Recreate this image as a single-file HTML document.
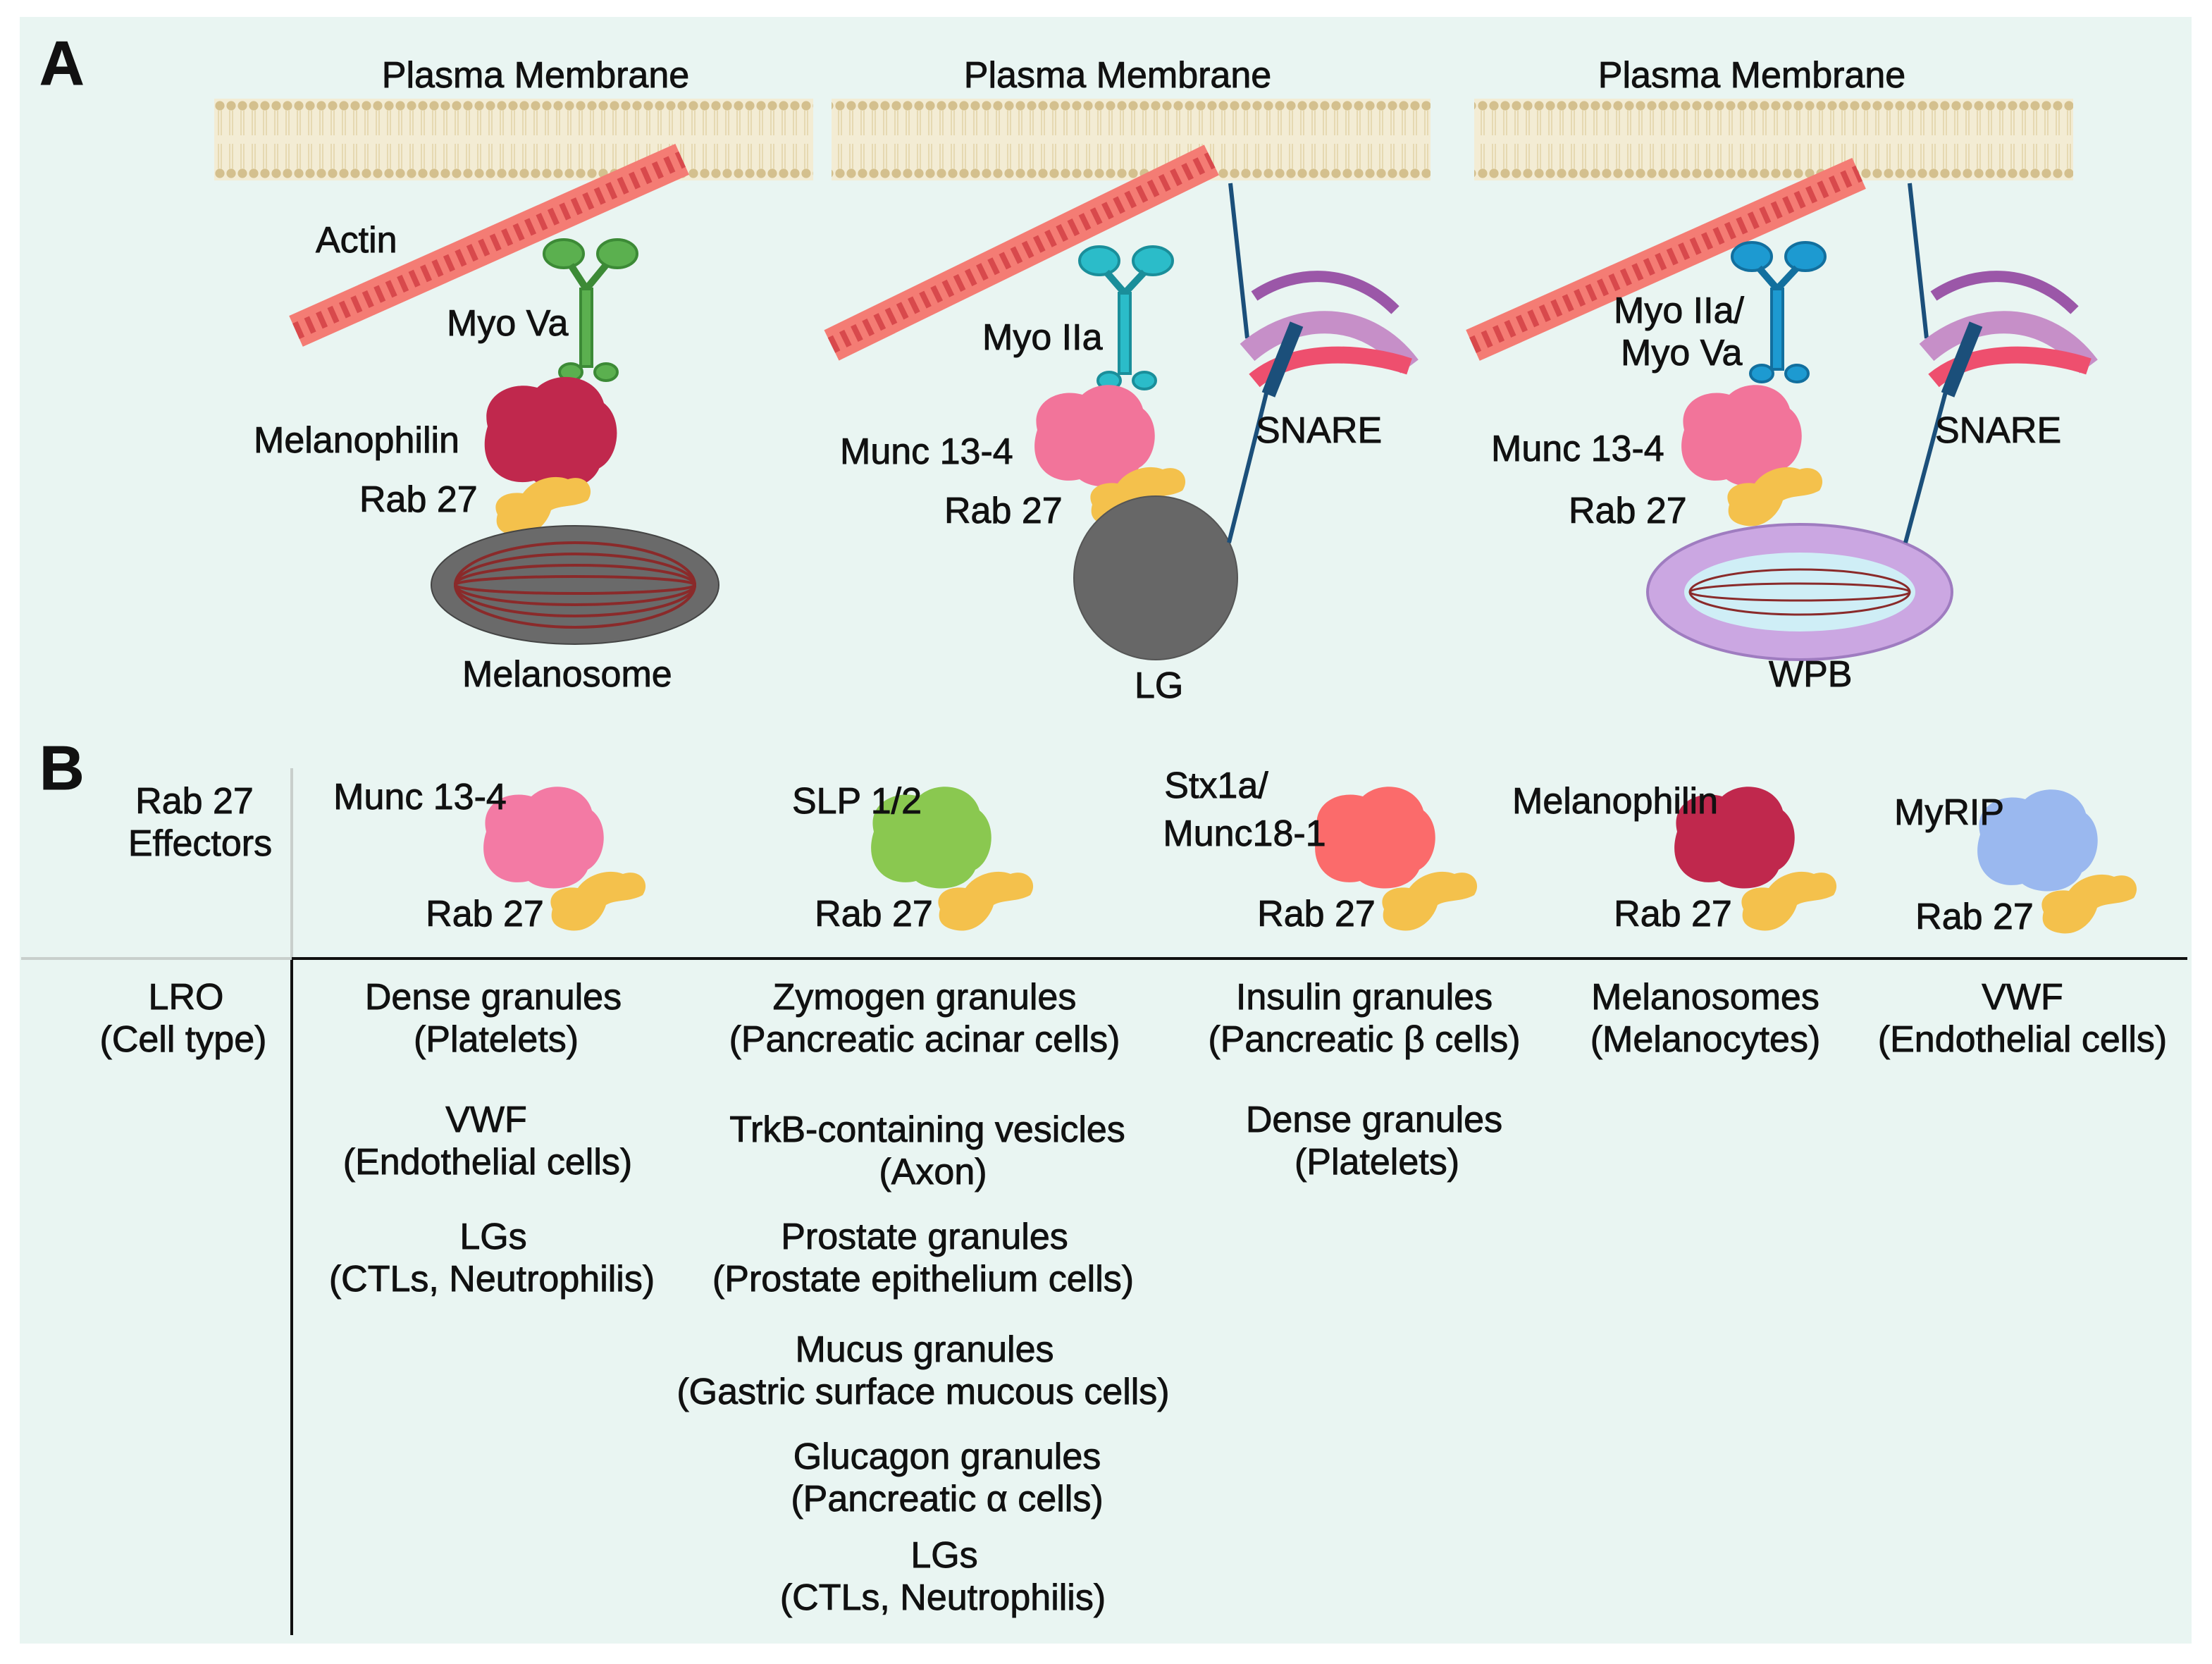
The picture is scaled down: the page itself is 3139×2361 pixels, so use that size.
<!DOCTYPE html>
<html><head><meta charset="utf-8"><style>
html,body{margin:0;padding:0;background:#fff;}
svg{display:block;}
text{font-family:"Liberation Sans",sans-serif;fill:#111;stroke:#111;stroke-width:0.45;}
</style></head><body>
<svg width="3139" height="2361" viewBox="0 0 1569.5 1180.5" xmlns="http://www.w3.org/2000/svg">
<defs>
<pattern id="lip" x="0" y="70" width="8" height="58" patternUnits="userSpaceOnUse">
<rect width="8" height="58" fill="#f3ecd4"/>
<circle cx="4" cy="5" r="3.3" fill="#d4c08e"/>
<circle cx="4" cy="53" r="3.3" fill="#d4c08e"/>
<line x1="3" y1="8" x2="3" y2="26" stroke="#e6d9b2" stroke-width="1"/>
<line x1="5" y1="8" x2="5" y2="26" stroke="#e6d9b2" stroke-width="1"/>
<line x1="3" y1="32" x2="3" y2="50" stroke="#e6d9b2" stroke-width="1"/>
<line x1="5" y1="32" x2="5" y2="50" stroke="#e6d9b2" stroke-width="1"/>
</pattern>
<path id="blob" d="M-40,-5 C-45,-25 -25,-35 -8,-30 C5,-42 30,-38 35,-20 C48,-10 45,15 32,22 C25,38 0,38 -10,30 C-30,35 -48,20 -40,-5Z"/>
<path id="rab" d="M-30,15 C-35,5 -25,-2 -12,0 C-5,-10 10,-14 20,-10 C32,-14 40,-4 34,5 C25,10 15,8 8,12 C5,22 -5,32 -18,30 C-30,28 -32,22 -30,15Z"/>
<g id="actin">
<line x1="0" y1="0" x2="300" y2="0" stroke="#f47c74" stroke-width="24"/>
<line x1="0" y1="0" x2="300" y2="0" stroke="#d8494c" stroke-width="12" stroke-dasharray="4 5"/>
</g>
</defs>
<rect x="14" y="12" width="1541" height="1154" fill="#e9f5f2"/>

<text x="28" y="60" font-size="44" font-weight="bold">A</text>
<g font-size="26" text-anchor="middle">
<text x="380" y="62">Plasma Membrane</text>
<text x="793" y="62">Plasma Membrane</text>
<text x="1243" y="62">Plasma Membrane</text>
</g>
<rect x="152" y="70" width="425" height="58" fill="url(#lip)"/>
<rect x="590" y="70" width="425" height="58" fill="url(#lip)"/>
<rect x="1046" y="70" width="425" height="58" fill="url(#lip)"/>

<use href="#actin" transform="translate(210,235) rotate(-24)"/>
<g fill="#5bb04f" stroke="#3c8a36" stroke-width="2">
<ellipse cx="400" cy="180" rx="14" ry="10"/><ellipse cx="438" cy="180" rx="14" ry="10"/>
<path d="M405,188 L416,205 L430,188" fill="none" stroke-width="5"/>
<rect x="412" y="205" width="8" height="55"/>
<ellipse cx="405" cy="264" rx="8" ry="6"/><ellipse cx="430" cy="264" rx="8" ry="6"/>
</g>
<use href="#blob" transform="translate(390,308) scale(1.1)" fill="#c0284d"/>
<use href="#rab" transform="translate(383,350)" fill="#f4c14c"/>
<ellipse cx="408" cy="415" rx="102" ry="42" fill="#6a6a6a" stroke="#444"/>
<g fill="none" stroke="#8a2a2a" stroke-width="2">
<ellipse cx="408" cy="415" rx="85" ry="30"/><ellipse cx="408" cy="415" rx="85" ry="22"/>
<ellipse cx="408" cy="415" rx="85" ry="14"/><ellipse cx="408" cy="415" rx="85" ry="6"/>
</g>
<g font-size="26">
<text x="224" y="179">Actin</text>
<text x="317" y="238">Myo Va</text>
<text x="180" y="321">Melanophilin</text>
<text x="255" y="363">Rab 27</text>
<text x="328" y="487">Melanosome</text>
</g>

<use href="#actin" transform="translate(590,245) rotate(-26)"/>
<g fill="#2bbcc9" stroke="#1a8e9a" stroke-width="2">
<ellipse cx="780" cy="185" rx="14" ry="10"/><ellipse cx="818" cy="185" rx="14" ry="10"/>
<path d="M785,193 L798,208 L812,193" fill="none" stroke-width="5"/>
<rect x="794" y="208" width="8" height="57"/>
<ellipse cx="787" cy="270" rx="8" ry="6"/><ellipse cx="812" cy="270" rx="8" ry="6"/>
</g>
<use href="#blob" transform="translate(776,310)" fill="#f2749a"/>
<use href="#rab" transform="translate(805,343)" fill="#f4c14c"/>
<circle cx="820" cy="410" r="58" fill="#676767" stroke="#555"/>
<path d="M873,130 L885,240 M902,265 L872,385" stroke="#1b4f7a" stroke-width="3" fill="none"/>
<g transform="translate(940,250)">
<path d="M-50,-40 C-20,-60 20,-60 50,-30" stroke="#9b57a8" stroke-width="8" fill="none"/>
<path d="M-55,0 C-20,-30 30,-30 60,10" stroke="#c68fc8" stroke-width="16" fill="none"/>
<path d="M-50,20 C-20,-5 30,0 60,10" stroke="#ee4f6e" stroke-width="12" fill="none"/>
<path d="M-40,30 L-20,-20" stroke="#1b4f7a" stroke-width="10" fill="none"/>
</g>
<g font-size="26">
<text x="697" y="248">Myo IIa</text>
<text x="596" y="329">Munc 13-4</text>
<text x="670" y="371">Rab 27</text>
<text x="891" y="314">SNARE</text>
<text x="805" y="495">LG</text>
</g>

<use href="#actin" transform="translate(1045,245) rotate(-24)"/>
<g fill="#1d9ad1" stroke="#126f9e" stroke-width="2">
<ellipse cx="1243" cy="182" rx="14" ry="10"/><ellipse cx="1281" cy="182" rx="14" ry="10"/>
<path d="M1248,190 L1261,205 L1275,190" fill="none" stroke-width="5"/>
<rect x="1257" y="205" width="8" height="57"/>
<ellipse cx="1250" cy="265" rx="8" ry="6"/><ellipse cx="1275" cy="265" rx="8" ry="6"/>
</g>
<use href="#blob" transform="translate(1235,310)" fill="#f2749a"/>
<use href="#rab" transform="translate(1257,343)" fill="#f4c14c"/>
<ellipse cx="1277" cy="420" rx="108" ry="48" fill="#cba7e2" stroke="#9f7cc0" stroke-width="2"/>
<ellipse cx="1277" cy="420" rx="82" ry="28" fill="#cfeef6"/>
<g fill="none" stroke="#8a2a2a" stroke-width="1.5">
<ellipse cx="1277" cy="420" rx="78" ry="16"/><ellipse cx="1277" cy="420" rx="78" ry="6"/>
</g>
<path d="M1355,130 L1367,240 M1384,265 L1352,385" stroke="#1b4f7a" stroke-width="3" fill="none"/>
<g transform="translate(1422,250)">
<path d="M-50,-40 C-20,-60 20,-60 50,-30" stroke="#9b57a8" stroke-width="8" fill="none"/>
<path d="M-55,0 C-20,-30 30,-30 60,10" stroke="#c68fc8" stroke-width="16" fill="none"/>
<path d="M-50,20 C-20,-5 30,0 60,10" stroke="#ee4f6e" stroke-width="12" fill="none"/>
<path d="M-40,30 L-20,-20" stroke="#1b4f7a" stroke-width="10" fill="none"/>
</g>
<g font-size="26">
<text x="1145" y="229">Myo IIa/</text>
<text x="1150" y="259">Myo Va</text>
<text x="1058" y="327">Munc 13-4</text>
<text x="1113" y="371">Rab 27</text>
<text x="1373" y="314">SNARE</text>
<text x="1255" y="487">WPB</text>
</g>

<text x="28" y="560" font-size="44" font-weight="bold">B</text>
<line x1="207" y1="545" x2="207" y2="680" stroke="#c8cfcc" stroke-width="2"/>
<line x1="207" y1="680" x2="207" y2="1160" stroke="#111" stroke-width="2"/>
<line x1="15" y1="680" x2="207" y2="680" stroke="#c8cfcc" stroke-width="2"/>
<line x1="207" y1="680" x2="1552" y2="680" stroke="#111" stroke-width="2"/>

<use href="#blob" transform="translate(385,595)" fill="#f37aa4"/>
<use href="#rab" transform="translate(422,630)" fill="#f4c14c"/>
<use href="#blob" transform="translate(660,595)" fill="#8ac850"/>
<use href="#rab" transform="translate(697,630)" fill="#f4c14c"/>
<use href="#blob" transform="translate(975,595)" fill="#fb6b6b"/>
<use href="#rab" transform="translate(1012,630)" fill="#f4c14c"/>
<use href="#blob" transform="translate(1230,595)" fill="#c0284d"/>
<use href="#rab" transform="translate(1267,630)" fill="#f4c14c"/>
<use href="#blob" transform="translate(1445,597)" fill="#9ab8ef"/>
<use href="#rab" transform="translate(1480,632)" fill="#f4c14c"/>

<g font-size="26" text-anchor="middle">
<text x="138" y="577">Rab 27</text>
<text x="142" y="607">Effectors</text>
<text x="132" y="716">LRO</text>
<text x="130" y="746">(Cell type)</text>
<text x="298" y="574">Munc 13-4</text>
<text x="344" y="657">Rab 27</text>
<text x="608" y="577">SLP 1/2</text>
<text x="620" y="657">Rab 27</text>
<text x="863" y="566">Stx1a/</text>
<text x="883" y="600">Munc18-1</text>
<text x="934" y="657">Rab 27</text>
<text x="1146" y="577">Melanophilin</text>
<text x="1187" y="657">Rab 27</text>
<text x="1383" y="585">MyRIP</text>
<text x="1401" y="659">Rab 27</text>

<text x="350" y="716">Dense granules</text>
<text x="352" y="746">(Platelets)</text>
<text x="345" y="803">VWF</text>
<text x="346" y="833">(Endothelial cells)</text>
<text x="350" y="886">LGs</text>
<text x="349" y="916">(CTLs, Neutrophilis)</text>

<text x="656" y="716">Zymogen granules</text>
<text x="656" y="746">(Pancreatic acinar cells)</text>
<text x="658" y="810">TrkB-containing vesicles</text>
<text x="662" y="840">(Axon)</text>
<text x="656" y="886">Prostate granules</text>
<text x="655" y="916">(Prostate epithelium cells)</text>
<text x="656" y="966">Mucus granules</text>
<text x="655" y="996">(Gastric surface mucous cells)</text>
<text x="672" y="1042">Glucagon granules</text>
<text x="672" y="1072">(Pancreatic α cells)</text>
<text x="670" y="1112">LGs</text>
<text x="669" y="1142">(CTLs, Neutrophilis)</text>

<text x="968" y="716">Insulin granules</text>
<text x="968" y="746">(Pancreatic β cells)</text>
<text x="975" y="803">Dense granules</text>
<text x="977" y="833">(Platelets)</text>

<text x="1210" y="716">Melanosomes</text>
<text x="1210" y="746">(Melanocytes)</text>
<text x="1435" y="716">VWF</text>
<text x="1435" y="746">(Endothelial cells)</text>
</g>
</svg>
</body></html>
